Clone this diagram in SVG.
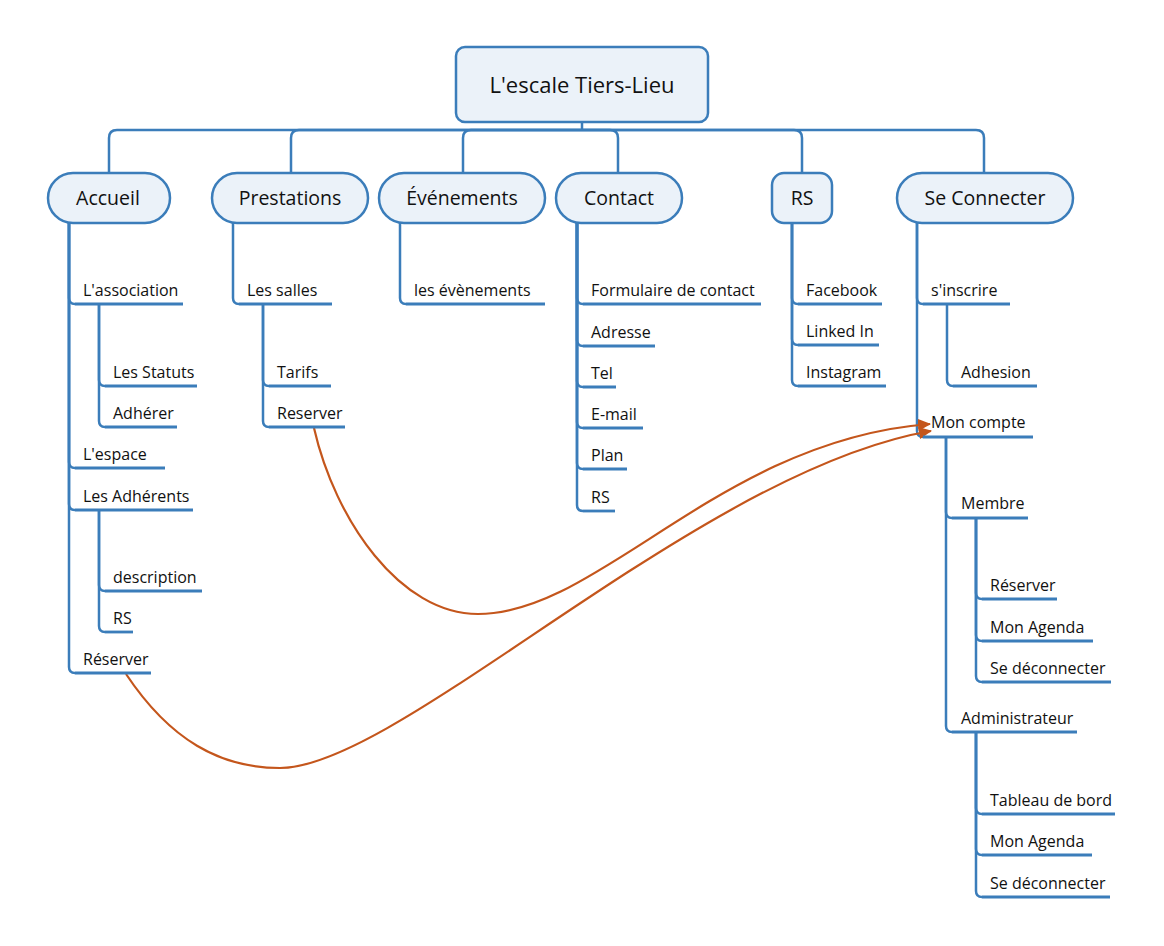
<svg xmlns="http://www.w3.org/2000/svg" width="1164" height="946" viewBox="0 0 1164 946">
<defs>
<style>
.bg{fill:#ffffff}
.box{fill:#ebf2f9;stroke:#3b7dba;stroke-width:2.5}
.ln{fill:none;stroke:#3b7dba;stroke-width:2.5;stroke-linecap:butt}
.ul{fill:none;stroke:#3b7dba;stroke-width:2.8}
.rel{fill:none;stroke:#c4561c;stroke-width:2.2}
.t0{font-family:"Open Sans","Noto Sans","Liberation Sans",sans-serif;font-size:22px;fill:#111;text-anchor:middle}
.t1{font-family:"Open Sans","Noto Sans","Liberation Sans",sans-serif;font-size:19.5px;fill:#111;text-anchor:middle}
.t2{font-family:"Open Sans","Noto Sans","Liberation Sans",sans-serif;font-size:16px;fill:#111}
</style>
<marker id="ah" markerUnits="userSpaceOnUse" markerWidth="16" markerHeight="14" refX="12" refY="6" orient="auto">
<path d="M0,0 L13,6 L0,12 z" fill="#c4561c"/>
</marker>
</defs>
<rect class="bg" x="0" y="0" width="1164" height="946"/>

<g id="connectors">
<!-- root to top-level -->
<path class="ln" d="M582,122 V130"/>
<path class="ln" d="M582,130 H117 Q109,130 109,138 V173"/>
<path class="ln" d="M582,130 H299 Q291,130 291,138 V173"/>
<path class="ln" d="M582,130 H471 Q463,130 463,138 V173"/>
<path class="ln" d="M582,130 H610 Q618,130 618,138 V173"/>
<path class="ln" d="M582,130 H794 Q802,130 802,138 V173"/>
<path class="ln" d="M582,130 H976 Q984,130 984,138 V173"/>

<!-- Accueil -->
<path class="ln" d="M69,223 V298 Q69,304 75,304"/>
<path class="ln" d="M69,223 V462 Q69,468 75,468"/>
<path class="ln" d="M69,223 V504 Q69,510 75,510"/>
<path class="ln" d="M69,223 V667 Q69,673 75,673"/>
<path class="ln" d="M99,304 V380 Q99,386 105,386"/>
<path class="ln" d="M99,304 V421 Q99,427 105,427"/>
<path class="ln" d="M99,510 V585 Q99,591 105,591"/>
<path class="ln" d="M99,510 V626 Q99,632 105,632"/>

<!-- Prestations -->
<path class="ln" d="M233,223 V298 Q233,304 239,304"/>
<path class="ln" d="M263,304 V380 Q263,386 269,386"/>
<path class="ln" d="M263,304 V421 Q263,427 269,427"/>

<!-- Evenements -->
<path class="ln" d="M400,223 V298 Q400,304 406,304"/>

<!-- Contact -->
<path class="ln" d="M577,223 V298 Q577,304 583,304"/>
<path class="ln" d="M577,223 V340 Q577,346 583,346"/>
<path class="ln" d="M577,223 V381 Q577,387 583,387"/>
<path class="ln" d="M577,223 V422 Q577,428 583,428"/>
<path class="ln" d="M577,223 V463 Q577,469 583,469"/>
<path class="ln" d="M577,223 V505 Q577,511 583,511"/>

<!-- RS -->
<path class="ln" d="M792,223 V298 Q792,304 798,304"/>
<path class="ln" d="M792,223 V339 Q792,345 798,345"/>
<path class="ln" d="M792,223 V380 Q792,386 798,386"/>

<!-- Se Connecter -->
<path class="ln" d="M917,223 V298 Q917,304 923,304"/>
<path class="ln" d="M917,223 V431 Q917,437 923,437"/>
<path class="ln" d="M947,304 V380 Q947,386 953,386"/>
<path class="ln" d="M946,437 V512 Q946,518 952,518"/>
<path class="ln" d="M946,437 V726 Q946,732 952,732"/>
<path class="ln" d="M976,518 V593 Q976,599 982,599"/>
<path class="ln" d="M976,518 V635 Q976,641 982,641"/>
<path class="ln" d="M976,518 V676 Q976,682 982,682"/>
<path class="ln" d="M976,732 V808 Q976,814 982,814"/>
<path class="ln" d="M976,732 V849 Q976,855 982,855"/>
<path class="ln" d="M976,732 V891 Q976,897 982,897"/>

<!-- relationships -->
<path class="rel" marker-end="url(#ah)" d="M314,428 C335,520 400,614 478,614 C600,614 720,440 930,424"/>
<path class="rel" marker-end="url(#ah)" d="M126,674 C170,740 220,768 280,768 C400,768 700,470 931,431"/>
</g>

<g id="root">
<rect class="box" x="456" y="47" width="252" height="75" rx="9"/>
<text class="t0" x="582" y="93">L'escale Tiers-Lieu</text>
</g>

<g id="accueil">
<rect class="box" x="48" y="173" width="122" height="50" rx="25"/>
<text class="t1" x="108" y="205">Accueil</text>
</g>
<g id="prestations">
<rect class="box" x="212" y="173" width="156" height="50" rx="25"/>
<text class="t1" x="290" y="205">Prestations</text>
</g>
<g id="evenements">
<rect class="box" x="379" y="173" width="166" height="50" rx="25"/>
<text class="t1" x="462" y="205">Événements</text>
</g>
<g id="contact">
<rect class="box" x="556" y="173" width="126" height="50" rx="25"/>
<text class="t1" x="619" y="205">Contact</text>
</g>
<g id="rs">
<rect class="box" x="772" y="173" width="60" height="50" rx="12"/>
<text class="t1" x="802" y="205">RS</text>
</g>
<g id="seconnecter">
<rect class="box" x="897" y="173" width="176" height="50" rx="25"/>
<text class="t1" x="985" y="205">Se Connecter</text>
</g>

<!-- Accueil children -->
<g id="lassociation"><text class="t2" x="83" y="296">L'association</text><path class="ul" d="M75,304 H183"/></g>
<g id="lesstatuts"><text class="t2" x="113" y="378">Les Statuts</text><path class="ul" d="M105,386 H197"/></g>
<g id="adherer"><text class="t2" x="113" y="419">Adhérer</text><path class="ul" d="M105,427 H177"/></g>
<g id="lespace"><text class="t2" x="83" y="460">L'espace</text><path class="ul" d="M75,468 H165"/></g>
<g id="lesadherents"><text class="t2" x="83" y="502">Les Adhérents</text><path class="ul" d="M75,510 H193"/></g>
<g id="description"><text class="t2" x="113" y="583">description</text><path class="ul" d="M105,591 H202"/></g>
<g id="accueil-rs"><text class="t2" x="113" y="624">RS</text><path class="ul" d="M105,632 H133"/></g>
<g id="accueil-reserver"><text class="t2" x="83" y="665">Réserver</text><path class="ul" d="M75,673 H151"/></g>

<!-- Prestations children -->
<g id="lessalles"><text class="t2" x="247" y="296">Les salles</text><path class="ul" d="M239,304 H332"/></g>
<g id="tarifs"><text class="t2" x="277" y="378">Tarifs</text><path class="ul" d="M269,386 H331"/></g>
<g id="prestations-reserver"><text class="t2" x="277" y="419">Reserver</text><path class="ul" d="M269,427 H345"/></g>

<!-- Evenements children -->
<g id="lesevenements"><text class="t2" x="414" y="296">les évènements</text><path class="ul" d="M406,304 H545"/></g>

<!-- Contact children -->
<g id="formulaire"><text class="t2" x="591" y="296">Formulaire de contact</text><path class="ul" d="M583,304 H761"/></g>
<g id="adresse"><text class="t2" x="591" y="338">Adresse</text><path class="ul" d="M583,346 H655"/></g>
<g id="tel"><text class="t2" x="591" y="379">Tel</text><path class="ul" d="M583,387 H616"/></g>
<g id="email"><text class="t2" x="591" y="420">E-mail</text><path class="ul" d="M583,428 H643"/></g>
<g id="plan"><text class="t2" x="591" y="461">Plan</text><path class="ul" d="M583,469 H627"/></g>
<g id="contact-rs"><text class="t2" x="591" y="503">RS</text><path class="ul" d="M583,511 H615"/></g>

<!-- RS children -->
<g id="facebook"><text class="t2" x="806" y="296">Facebook</text><path class="ul" d="M798,304 H882"/></g>
<g id="linkedin"><text class="t2" x="806" y="337">Linked In</text><path class="ul" d="M798,345 H879"/></g>
<g id="instagram"><text class="t2" x="806" y="378">Instagram</text><path class="ul" d="M798,386 H886"/></g>

<!-- Se Connecter children -->
<g id="sinscrire"><text class="t2" x="931" y="296">s'inscrire</text><path class="ul" d="M923,304 H1010"/></g>
<g id="adhesion"><text class="t2" x="961" y="378">Adhesion</text><path class="ul" d="M953,386 H1037"/></g>
<g id="moncompte"><text class="t2" x="931" y="428">Mon compte</text><path class="ul" d="M923,437 H1033"/></g>
<g id="membre"><text class="t2" x="961" y="509">Membre</text><path class="ul" d="M952,518 H1028"/></g>
<g id="membre-reserver"><text class="t2" x="990" y="591">Réserver</text><path class="ul" d="M982,599 H1057"/></g>
<g id="membre-agenda"><text class="t2" x="990" y="633">Mon Agenda</text><path class="ul" d="M982,641 H1093"/></g>
<g id="membre-deconnecter"><text class="t2" x="990" y="674">Se déconnecter</text><path class="ul" d="M982,682 H1111"/></g>
<g id="administrateur"><text class="t2" x="961" y="724">Administrateur</text><path class="ul" d="M952,732 H1077"/></g>
<g id="tableau"><text class="t2" x="990" y="806">Tableau de bord</text><path class="ul" d="M982,814 H1115"/></g>
<g id="admin-agenda"><text class="t2" x="990" y="847">Mon Agenda</text><path class="ul" d="M982,855 H1092"/></g>
<g id="admin-deconnecter"><text class="t2" x="990" y="889">Se déconnecter</text><path class="ul" d="M982,897 H1110"/></g>
</svg>
